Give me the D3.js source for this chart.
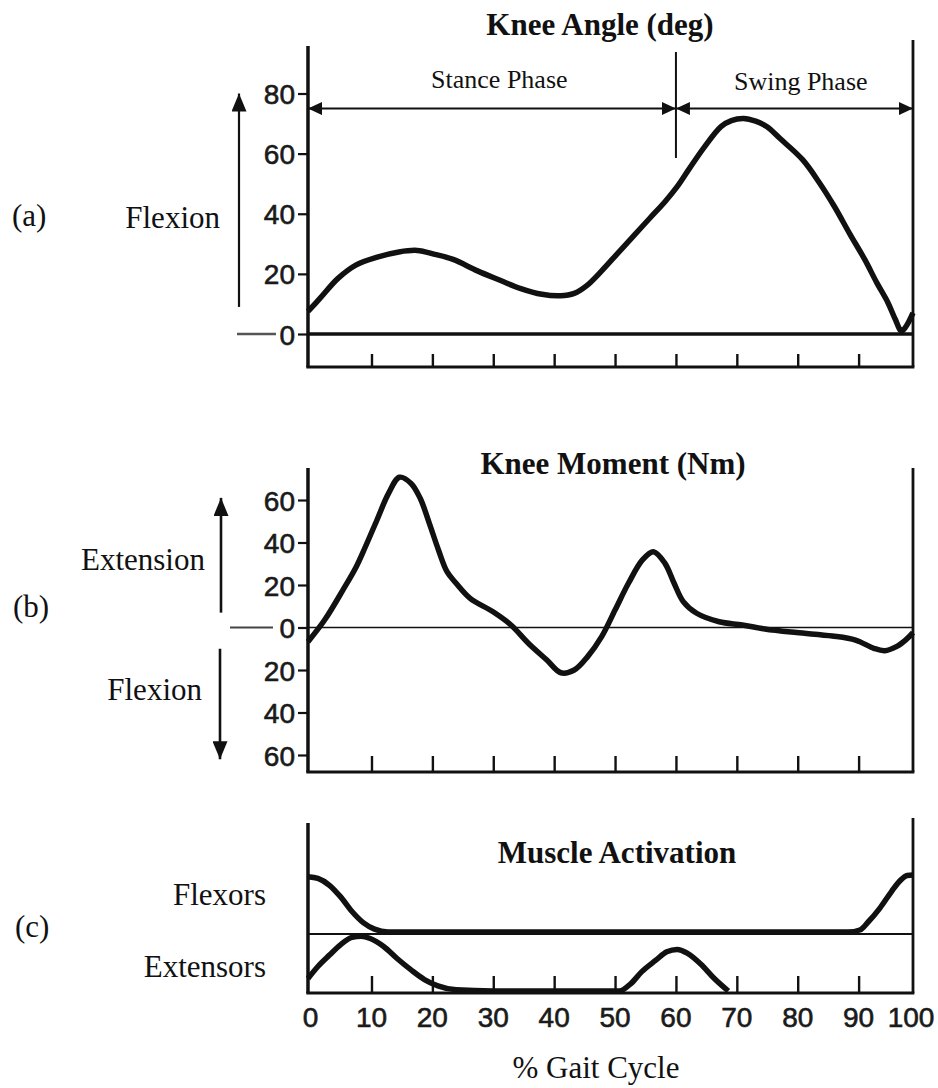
<!DOCTYPE html>
<html>
<head>
<meta charset="utf-8">
<script src="https://cdn.jsdelivr.net/npm/d3@7"></script>
<style>
  body { margin: 0; background: #fff; }
  svg { display: block; }
  .serif { font-family: "Liberation Serif", "Times New Roman", serif; fill: #111; }
  .num { font-family: "Liberation Sans", Arial, sans-serif; font-size: 28px; fill: #1a1a1a; stroke: #1a1a1a; stroke-width: 0.6px; }
</style>
</head>
<body>
<svg id="chart" width="938" height="1088"></svg>
<script>
"use strict";

/* % gait cycle ticks, shared by the three panels */
const gaitTicks = [0, 10, 20, 30, 40, 50, 60, 70, 80, 90, 100];
const frameStart = -0.43;   // % where the plotted box begins
const frameEnd = 98.93;     // % where the plotted box ends
const toeOff = 60;          // stance / swing split

/* (a) knee angle, deg */
const angleTicks = [0, 20, 40, 60, 80];
const kneeAngle = [
  [-0.43, 7.5], [1.6, 12], [4.5, 18.5], [7.5, 23], [10.8, 25.5], [14.5, 27.3], [17.5, 27.8],
  [20.4, 26.5], [23.4, 24.8], [27.4, 21], [30.7, 18.2], [34.4, 15.2], [38, 13.2], [41, 12.7],
  [43.3, 13.5], [45.3, 16], [47.8, 21], [50.5, 27], [53.2, 33], [55.7, 38.5], [58.2, 44],
  [60.2, 49], [62.2, 55], [64.6, 62], [67.4, 69], [69.1, 71], [71.1, 71.7], [73.1, 70.8],
  [74.9, 69], [77.1, 65], [80.8, 58], [83.5, 50.5], [86, 42.5], [88.5, 33.5], [91, 24.8],
  [93, 17], [94.8, 10.5], [96, 5], [97.1, 1], [98.93, 7]
];

/* (b) knee moment, Nm (extension positive) */
const momentTicks = [-60, -40, -20, 0, 20, 40, 60];
const kneeMoment = [
  [-0.43, -6.7], [2.3, 3.5], [5.3, 17.6], [7.5, 28.6], [9, 38], [10.9, 50.6], [12.8, 63.1],
  [14.6, 70.7], [16.5, 67.8], [18, 60.8], [19.5, 49], [21, 36.5], [22.4, 26.3], [23.9, 20.8],
  [26.2, 13.7], [29.9, 7.5], [32.9, 1.2], [35.8, -7.5], [38.8, -15.3], [41.1, -21.3],
  [43.3, -20], [45.5, -13.7], [47.8, -4.3], [50, 8.2], [52.2, 20.8], [54.5, 31.8],
  [56.3, 35.7], [58.2, 30.2], [59.7, 20.8], [61.2, 12.2], [63.4, 6.7], [67.1, 2.7],
  [70.9, 1.2], [74.6, -0.7], [79.8, -2.4], [85.7, -4], [89.5, -5.9], [92.5, -9.8],
  [94.3, -10.9], [96.2, -9], [97.7, -5.9], [98.93, -2.4]
];

/* (c) muscle activation, relative (0 = off, 1 = peak) */
const flexors = [
  [-0.43, 0.97], [1.2, 0.94], [3.1, 0.82], [4.9, 0.62], [6.8, 0.36], [8.7, 0.16], [10.5, 0.05],
  [12.7, 0], [29.9, 0], [59.6, 0], [88.3, 0], [90.2, 0.035], [91.6, 0.18], [93.5, 0.42],
  [95.4, 0.71], [96.9, 0.91], [98, 0.99], [98.93, 1]
];
const extensors = [
  [-0.43, 0.22], [1.2, 0.43], [3.1, 0.63], [4.9, 0.81], [6.8, 0.94], [8.3, 0.96], [9.8, 0.92],
  [12, 0.78], [14.2, 0.57], [16.5, 0.37], [18.7, 0.2], [20.9, 0.09], [23.9, 0.02], [29.9, 0],
  [50.7, 0], [52.6, 0.13], [54.4, 0.34], [56.7, 0.54], [58.5, 0.69], [60.2, 0.73],
  [61.9, 0.66], [64.1, 0.47], [66.3, 0.22], [68.6, 0]
];

const ink = "#111";
const svg = d3.select("#chart");

const xScale = d3.scaleLinear().domain([0, 100]).range([310.6, 919.5]);
const frameL = xScale(frameStart),
      frameR = xScale(frameEnd);

const yAngle = d3.scaleLinear().domain([0, 80]).range([334, 93.5]);
const yMoment = d3.scaleLinear().domain([-60, 60]).range([755, 500]);
const yFlex = d3.scaleLinear().domain([0, 1]).range([932, 875]);
const yExt = d3.scaleLinear().domain([0, 1]).range([991, 934]);

/* arrowheads */
const defs = svg.append("defs");
function add_marker(id, len, wid) {
  defs.append("marker")
      .attr("id", id)
      .attr("viewBox", `0 0 ${len} ${wid}`)
      .attr("refX", len).attr("refY", wid / 2)
      .attr("markerWidth", len).attr("markerHeight", wid)
      .attr("markerUnits", "userSpaceOnUse")
      .attr("orient", "auto-start-reverse")
    .append("path")
      .attr("d", `M0,0 L${len},${wid / 2} L0,${wid} z`)
      .attr("fill", ink);
}
add_marker("headSmall", 14, 13);
add_marker("headBig", 18, 15);

/* Draw the box, x ticks and title of one panel */
function render_frame(p) {
  let g = svg.append("g").attr("class", "frame");

  g.append("line")
      .attr("x1", frameL).attr("x2", frameL)
      .attr("y1", p.leftTop).attr("y2", p.bottom)
      .attr("stroke", ink).attr("stroke-width", 3.5);
  g.append("line")
      .attr("x1", frameR).attr("x2", frameR)
      .attr("y1", p.rightTop).attr("y2", p.bottom)
      .attr("stroke", ink).attr("stroke-width", 2.8);
  g.append("line")
      .attr("x1", frameL - 1.7).attr("x2", frameR + 1.4)
      .attr("y1", p.bottom).attr("y2", p.bottom)
      .attr("stroke", ink).attr("stroke-width", 3.2);

  g.append("g")
      .attr("transform", `translate(0,${p.bottom})`)
      .call(d3.axisTop(xScale).tickValues(gaitTicks.slice(1, -1)).tickSize(p.tickLen).tickFormat(""))
      .call(a => a.select(".domain").remove())
      .selectAll("line").attr("stroke", ink).attr("stroke-width", 2.4);

  g.append("text")
      .attr("class", "serif")
      .attr("x", p.titleX).attr("y", p.titleY)
      .attr("text-anchor", "middle")
      .attr("font-size", 31).attr("font-weight", "bold")
      .text(p.title);
}

/* Left value axis with absolute value labels */
function render_value_axis(scale, ticks) {
  let ax = svg.append("g")
      .attr("transform", `translate(${frameL},0)`)
      .call(d3.axisLeft(scale).tickValues(ticks).tickSize(10).tickPadding(3)
        .tickFormat(d => Math.abs(d)));
  ax.select(".domain").remove();
  ax.selectAll("line").attr("stroke", ink).attr("stroke-width", 2.2);
  ax.selectAll("text")
      .attr("class", "num")
      .attr("font-size", null).attr("font-family", null)
      .attr("dy", "0.36em");
}

/* Thick curve; smooth Catmull-Rom for the kinematics, monotone for the on/off bursts */
function render_curve(data, yScale, curve) {
  let line = d3.line()
      .x(d => xScale(d[0]))
      .y(d => yScale(d[1]))
      .curve(curve || d3.curveCatmullRom.alpha(0.5));
  svg.append("path")
      .datum(data)
      .attr("d", line)
      .attr("fill", "none")
      .attr("stroke", ink)
      .attr("stroke-width", 5.5)
      .attr("stroke-linejoin", "round");
}

function render_label(text, x, y, anchor) {
  svg.append("text")
      .attr("class", "serif")
      .attr("x", x).attr("y", y)
      .attr("text-anchor", anchor)
      .attr("font-size", 31)
      .text(text);
}

function render_arrow(x, y1, y2, width) {
  svg.append("line")
      .attr("x1", x).attr("x2", x)
      .attr("y1", y1).attr("y2", y2)
      .attr("stroke", ink).attr("stroke-width", width)
      .attr("marker-end", "url(#headBig)");
}

/************ (a) Knee angle ************/
render_frame({ leftTop: 46, rightTop: 40, bottom: 367, tickLen: 13,
               title: "Knee Angle (deg)", titleX: 600, titleY: 35 });
render_value_axis(yAngle, angleTicks);

svg.append("line")
    .attr("x1", 237).attr("x2", 276)
    .attr("y1", yAngle(0)).attr("y2", yAngle(0))
    .attr("stroke", "#555").attr("stroke-width", 2.5);
svg.append("line")
    .attr("x1", frameL).attr("x2", frameR)
    .attr("y1", yAngle(0)).attr("y2", yAngle(0))
    .attr("stroke", ink).attr("stroke-width", 3.5);

// stance / swing markers
const phaseY = yAngle(75);
svg.append("line")
    .attr("x1", xScale(toeOff)).attr("x2", xScale(toeOff))
    .attr("y1", 52).attr("y2", 158)
    .attr("stroke", ink).attr("stroke-width", 2);
[[frameL, xScale(toeOff)], [xScale(toeOff), frameR]].forEach(s => {
  svg.append("line")
      .attr("x1", s[0]).attr("x2", s[1])
      .attr("y1", phaseY).attr("y2", phaseY)
      .attr("stroke", ink).attr("stroke-width", 2)
      .attr("marker-start", "url(#headSmall)")
      .attr("marker-end", "url(#headSmall)");
});
svg.append("text").attr("class", "serif")
    .attr("x", xScale(31)).attr("y", 88)
    .attr("text-anchor", "middle").attr("font-size", 26)
    .text("Stance Phase");
svg.append("text").attr("class", "serif")
    .attr("x", xScale(80.5)).attr("y", 90)
    .attr("text-anchor", "middle").attr("font-size", 26)
    .text("Swing Phase");

render_curve(kneeAngle, yAngle);
render_label("(a)", 12, 226, "start");
render_label("Flexion", 220, 228, "end");
render_arrow(239, yAngle(9), yAngle(80), 2.2);

/************ (b) Knee moment ************/
render_frame({ leftTop: 468, rightTop: 468, bottom: 772, tickLen: 16,
               title: "Knee Moment (Nm)", titleX: 613, titleY: 474 });
render_value_axis(yMoment, momentTicks);

svg.append("line")
    .attr("x1", 230).attr("x2", 273)
    .attr("y1", yMoment(0)).attr("y2", yMoment(0))
    .attr("stroke", "#444").attr("stroke-width", 2);
svg.append("line")
    .attr("x1", frameL).attr("x2", frameR)
    .attr("y1", yMoment(0)).attr("y2", yMoment(0))
    .attr("stroke", ink).attr("stroke-width", 1.7);

render_curve(kneeMoment, yMoment);
render_label("(b)", 13, 617, "start");
render_label("Extension", 205, 570, "end");
render_label("Flexion", 202, 700, "end");
render_arrow(221, yMoment(7), yMoment(61), 2.6);
render_arrow(220, yMoment(-10), yMoment(-62), 2.6);

/************ (c) Muscle activation ************/
render_frame({ leftTop: 823, rightTop: 818, bottom: 993, tickLen: 17,
               title: "Muscle Activation", titleX: 617, titleY: 863 });

svg.append("line")
    .attr("x1", frameL).attr("x2", frameR)
    .attr("y1", 934).attr("y2", 934)
    .attr("stroke", ink).attr("stroke-width", 2);

render_curve(flexors, yFlex, d3.curveMonotoneX);
render_curve(extensors, yExt, d3.curveMonotoneX);
render_label("(c)", 15, 937, "start");
render_label("Flexors", 266, 905, "end");
render_label("Extensors", 266, 977, "end");

svg.append("g")
    .selectAll("text")
    .data(gaitTicks)
    .enter().append("text")
    .attr("class", "num")
    .attr("x", d => Math.max(307, Math.min(xScale(d), 911)))
    .attr("y", 1017)
    .attr("dy", "0.36em")
    .attr("text-anchor", "middle")
    .text(d => d);

svg.append("text").attr("class", "serif")
    .attr("x", 596).attr("y", 1078)
    .attr("text-anchor", "middle").attr("font-size", 31)
    .text("% Gait Cycle");
</script>
</body>
</html>
